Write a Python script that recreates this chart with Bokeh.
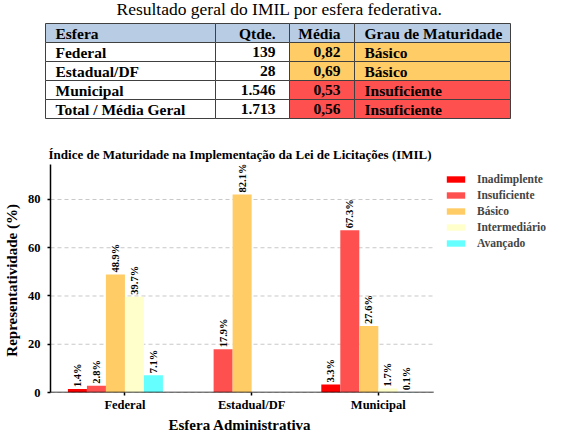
import numpy as np
from bokeh.plotting import figure
from bokeh.models import Range1d, FixedTicker, Legend, LegendItem, ColumnDataSource, Title
from bokeh.core.properties import value
from bokeh.embed import file_html
from bokeh.resources import INLINE

SERIF = "Liberation Serif"

# ---- dados da tabela ----
tab_titulo = "Resultado geral do IMIL por esfera federativa."
tab_header = ["Esfera", "Qtde.", "Média", "Grau de Maturidade"]
tab_esfera = ["Federal", "Estadual/DF", "Municipal", "Total / Média Geral"]
tab_qtde = ["139", "28", "1.546", "1.713"]
tab_media = ["0,82", "0,69", "0,53", "0,56"]
tab_grau = ["Básico", "Básico", "Insuficiente", "Insuficiente"]

# ---- dados do grafico ----
esferas = ["Federal", "Estadual/DF", "Municipal"]
niveis = ["Inadimplente", "Insuficiente", "Básico", "Intermediário", "Avançado"]
inadimplente = [1.4, 0.0, 3.3]
insuficiente = [2.8, 17.9, 67.3]
basico = [48.9, 82.1, 27.6]
intermediario = [39.7, 0.0, 1.7]
avancado = [7.1, 0.0, 0.1]
y_ticks = [0, 20, 40, 60, 80]

cores = ["#FF0000", "#FF5050", "#FFCC66", "#FFFFCC", "#66FFFF"]
grau_cor = {"Básico": "#FFCC66", "Insuficiente": "#FF5050"}
header_cor = "#B8CCE4"

# ---------------- tabela (coordenadas em pixels da pagina) ----------------
col_edges = [53, 223, 297, 362, 518]
row_edges = [31, 50, 69, 88, 107, 126]
col_align = ["left", "right", "right", "left"]

tab = figure(width=551, height=138, x_range=Range1d(8, 559), y_range=Range1d(146, 8),
             output_backend="svg", toolbar_location=None, min_border=0,
             x_axis_location=None, y_axis_location=None)
tab.grid.visible = False
tab.outline_line_color = None

linhas = [tab_header] + [list(r) for r in zip(tab_esfera, tab_qtde, tab_media, tab_grau)]
L, R, T, B, F = [], [], [], [], []
txt = {"left": dict(x=[], y=[], t=[]), "right": dict(x=[], y=[], t=[])}
for r, linha in enumerate(linhas):
    for c, s in enumerate(linha):
        L.append(col_edges[c]); R.append(col_edges[c + 1])
        T.append(row_edges[r]); B.append(row_edges[r + 1])
        if r == 0:
            F.append(header_cor)
        elif c >= 2:
            F.append(grau_cor[linha[3]])
        else:
            F.append("white")
        a = col_align[c]
        txt[a]["x"].append(col_edges[c] + 10 if a == "left" else col_edges[c + 1] - 14)
        txt[a]["y"].append((row_edges[r] + row_edges[r + 1]) / 2)
        txt[a]["t"].append(s)

tab.quad(left=L, right=R, top=T, bottom=B, fill_color=F, line_color="#404040", line_width=1)
for a, d in txt.items():
    tab.text(x=d["x"], y=d["y"], text=d["t"], text_align=a, text_baseline="middle",
             text_font=value(SERIF), text_font_style="bold", text_font_size="15.5px",
             text_color="black")
tab.text(x=[287], y=[16.5], text=[tab_titulo], text_align="center", text_baseline="middle",
         text_font=value(SERIF), text_font_size="17.5px", text_color="black")

# ---------------- grafico de barras ----------------
x = np.arange(len(esferas))
w = 0.15
x_lo, x_hi = -0.5875, 2.4375          # area "util" do grafico (eixo x termina aqui)
x_end = x_lo + 502 * (x_hi - x_lo) / 384   # quadro estendido ate a legenda

p = figure(width=551, height=294, x_range=Range1d(x_lo, x_end), y_range=Range1d(0, 94.5),
           output_backend="svg", toolbar_location=None,
           title="Índice de Maturidade na Implementação da Lei de Licitações (IMIL)",
           min_border_left=49, min_border_right=0, min_border_top=26, min_border_bottom=30)

# grade tracejada e linha do eixo x so ate x_hi
n = len(y_ticks)
p.segment(x0=[x_lo] * n, y0=y_ticks, x1=[x_hi] * n, y1=y_ticks, line_color="#c8c8c8",
          line_width=1, line_dash="4 3", level="underlay")

series = [inadimplente, insuficiente, basico, intermediario, avancado]
items = []
for i, (nome, vals, cor) in enumerate(zip(niveis, series, cores)):
    src = ColumnDataSource(dict(x=x + (i - 2.5) * w, top=vals,
                                lab=["%.1f%%" % v if v > 0 else "" for v in vals]))
    r = p.vbar(x="x", top="top", width=w, fill_color=cor, line_color=None, source=src)
    p.text(x="x", y="top", text="lab", angle=np.pi / 2, text_align="left",
           text_baseline="middle", y_offset=-2, text_font=value(SERIF),
           text_font_style="bold", text_font_size="10.5px", text_color="black", source=src)
    items.append(LegendItem(label=nome, renderers=[r]))

p.segment(x0=[x_lo], y0=[0], x1=[x_hi], y1=[0], line_color="black", line_width=1.5)

legend = Legend(items=items, location=(394, 143), glyph_width=23, glyph_height=8,
                label_standoff=10, label_height=13, spacing=3, padding=0, margin=0,
                border_line_color=None, background_fill_alpha=0,
                label_text_font=SERIF, label_text_font_style="bold",
                label_text_font_size="11.5px")
p.add_layout(legend)

p.xaxis.ticker = FixedTicker(ticks=list(x))
p.xaxis.major_label_overrides = {int(i): e for i, e in zip(x, esferas)}
p.yaxis.ticker = FixedTicker(ticks=y_ticks)
p.yaxis.axis_label = "Representatividade  (%)"

# rotulo do eixo x como titulo abaixo, centrado na area util e nao no quadro estendido
xlabel = Title(text="Esfera Administrativa", align="left", offset=118, standoff=0,
               text_font=SERIF, text_font_style="bold", text_font_size="15px",
               text_color="black")
p.add_layout(xlabel, "below")

p.axis.axis_line_color = "black"
p.axis.axis_line_width = 1.5
p.xaxis.axis_line_color = None
p.axis.major_tick_line_width = 1.5
p.axis.major_tick_out = 3
p.axis.major_tick_in = 0
p.axis.minor_tick_out = 0
p.axis.minor_tick_in = 0
p.axis.major_label_text_font = SERIF
p.axis.major_label_text_font_style = "bold"
p.axis.major_label_text_font_size = "12.5px"
p.axis.major_label_text_color = "black"
p.axis.axis_label_text_font = SERIF
p.axis.axis_label_text_font_style = "bold"
p.axis.axis_label_text_font_size = "15px"
p.axis.axis_label_text_color = "black"
p.xaxis.major_label_standoff = 2
p.yaxis.major_label_standoff = 7
p.yaxis.axis_label_standoff = 5

p.grid.visible = False
p.outline_line_color = None

p.title.align = "left"
p.title.offset = -2
p.title.standoff = 5
p.title.text_font = SERIF
p.title.text_font_style = "bold"
p.title.text_font_size = "13px"
p.title.text_color = "black"

# duas raizes separadas, para que os quadros das figuras nao sejam alinhados entre si
open("out.html", "w").write(file_html([tab, p], INLINE))
